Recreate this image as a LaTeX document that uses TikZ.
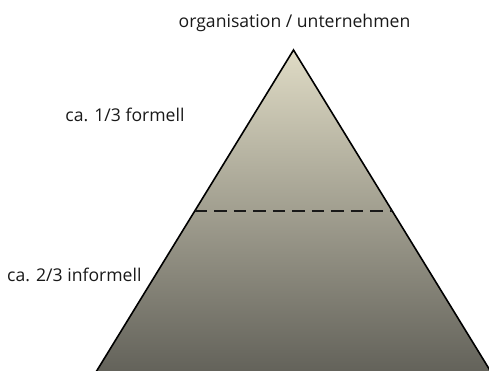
\documentclass[tikz,border=0pt]{standalone}
\usepackage{fontspec}
\setmainfont{Open Sans}
\usetikzlibrary{calc}
\definecolor{pyrtop}{HTML}{DFDBC5}
\definecolor{pyrmid}{HTML}{ABA896}
\definecolor{pyrbot}{HTML}{63625A}
\begin{document}
\begin{tikzpicture}[x=1pt,y=-1pt,
  lbl/.style={inner sep=0pt, text=black!90, font=\fontsize{17.6}{20}\selectfont},
  edge/.style={draw=black, line width=1.6pt, line join=miter},
  divider/.style={draw=black!90, line width=1.7pt, dash pattern=on 12.5pt off 7pt}]
\useasboundingbox (0,0) rectangle (489,371);
\coordinate (apex) at (293.5,50);
\coordinate (bl) at (96,372);
\coordinate (br) at (491,372);
\shade[top color=pyrtop, middle color=pyrmid, bottom color=pyrbot] (apex) -- (br) -- (bl) -- cycle;
\draw[edge] (bl) -- (apex) -- (br);
\coordinate (dl) at ($(apex)!0.5!(bl)$);
\coordinate (dr) at ($(apex)!0.5!(br)$);
\draw[divider] (dl) -- (dr);
\node[lbl] (top) at (294.5,23) {organisation / unternehmen};
\node[lbl] (formell) at (125,115) {ca. 1/3 formell};
\node[lbl, anchor=west] (informell) at (7,275) {ca. 2/3 informell};
\end{tikzpicture}
\end{document}
